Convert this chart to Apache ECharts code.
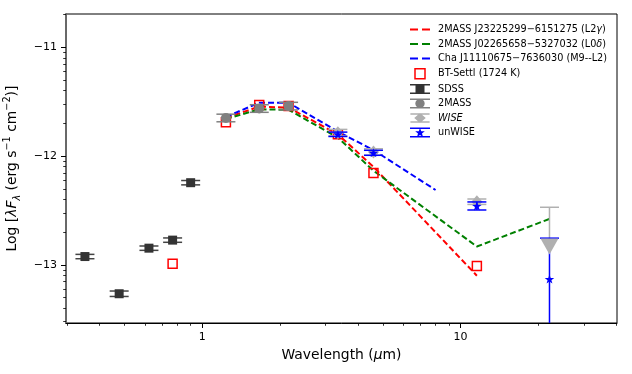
<!DOCTYPE html>
<html>
<head>
<meta charset="utf-8">
<script src="https://cdn.jsdelivr.net/npm/echarts@6/dist/echarts.min.js"></script>
<style>
html, body { margin: 0; padding: 0; background: #fff; }
#chart { width: 632px; height: 374px; }
</style>
</head>
<body>
<div id="chart"></div>
<script>
const FONT = 'DejaVu Sans'

// photometry: wavelength (um), log(lambda F_lambda), errors in dex
const sdssWave = [0.3516, 0.477, 0.622, 0.768, 0.902]
const sdssFlux = [-12.924, -13.266, -12.847, -12.773, -12.245]
const sdssErr = [0.02, 0.025, 0.02, 0.02, 0.02]

const tmassWave = [1.235, 1.662, 2.159]
const tmassFlux = [-11.65, -11.563, -11.541]
const tmassErr = [0.035, 0.035, 0.035]

const wiseWave = [3.35, 4.60, 11.56, 22.08]
const wiseFlux = [-11.785, -11.963, -12.42, -12.832]
const wiseErrDown = [0.03, 0.03, 0.025, 0]      // 0 = upper limit
const wiseErrUp = [0.03, 0.03, 0.025, 0.361]

const unwiseWave = [3.35, 4.60, 11.56, 22.08]
const unwiseFlux = [-11.80, -11.97, -12.459, -13.131]
const unwiseErrDown = [0.02, 0.023, 0.037, 2.0]
const unwiseErrUp = [0.02, 0.023, 0.037, 0.376]

const settlWave = [0.768, 1.235, 1.662, 2.159, 3.35, 4.60, 11.56]
const settlFlux = [-12.99, -11.69, -11.53, -11.54, -11.80, -12.155, -13.01]

// comparison objects
const redWave = [1.235, 1.662, 2.159, 3.35, 4.60, 11.56]
const redFlux = [-11.65, -11.545, -11.555, -11.80, -12.10, -13.10]
const greenWave = [1.235, 1.662, 2.159, 3.35, 4.60, 11.56, 22.08]
const greenFlux = [-11.66, -11.57, -11.575, -11.83, -12.135, -12.832, -12.578]
const blueWave = [1.235, 1.662, 2.159, 3.35, 4.60, 8.0]
const blueFlux = [-11.64, -11.51, -11.51, -11.775, -11.945, -12.312]

const xLabels = [1, 10]
const xMinor = [0.3, 0.4, 0.5, 0.6, 0.7, 0.8, 0.9, 2, 3, 4, 5, 6, 7, 8, 9, 20, 30, 40]
const yLabels = [-13, -12, -11]
const yMin = -13.535, yMax = -10.694
const yMinor = []
for (let d = -14; d < -10; d++) {
    for (let k = 2; k <= 9; k++) {
        const v = d + Math.log10(k)
        if (v > yMin && v < yMax) yMinor.push(v)
    }
}

const names = {
    red: '2MASS J23225299−6151275 (L2γ)',
    green: '2MASS J02265658−5327032 (L0δ)',
    blue: 'Cha J11110675−7636030 (M9--L2)',
    settl: 'BT-Settl (1724 K)'
}

const STAR = 'path://M0,-10L2.35,-3.24L9.51,-3.09L3.8,1.24L5.88,8.09L0,4L-5.88,8.09L-3.8,1.24L-9.51,-3.09L-2.35,-3.24Z'
const CAPS = 'M0,0H20V1.5H0Z M0,8.5H20V10H0Z '
const iconDash = 'path://M0,0H8V2H0Z M12,0H20V2H12Z'
const iconSdss = 'path://' + CAPS + 'M5.5,0.6H14.5V9.4H5.5Z'
const icon2mass = 'path://' + CAPS + 'M14.7,5A4.7,4.7 0 1,1 5.3,5A4.7,4.7 0 1,1 14.7,5Z'
const iconWise = 'path://' + CAPS + 'M10,-0.2L16,5L10,10.2L4,5Z'
const iconUnwise = 'path://' + CAPS + 'M10,0.4L11.25,3.7L14.8,3.8L12,6L13,9.4L10,7.4L7,9.4L8,6L5.2,3.8L8.75,3.7Z'

const pairs = (xs, ys) => xs.map((x, i) => [x, ys[i]])

function errorBars(wave, flux, down, up, color, z) {
    return {
        type: 'custom',
        silent: true,
        clip: true,
        z: z,
        data: wave.map((w, i) => [w, flux[i], flux[i] - down[i], flux[i] + up[i], down[i]]),
        encode: { x: 0, y: 1 },
        renderItem(params, api) {
            const cs = params.coordSys
            const top = api.coord([api.value(0), api.value(3)])
            const bot = api.coord([api.value(0), api.value(2)])
            const yBot = Math.min(bot[1], cs.y + cs.height)
            const st = { stroke: color, lineWidth: 1.5 }
            const kids = [
                { type: 'line', shape: { x1: top[0], y1: top[1], x2: top[0], y2: yBot }, style: st },
                { type: 'line', shape: { x1: top[0] - 9.5, y1: top[1], x2: top[0] + 9.5, y2: top[1] }, style: st }
            ]
            if (api.value(4) > 0 && bot[1] <= cs.y + cs.height) {
                kids.push({ type: 'line', shape: { x1: bot[0] - 9.5, y1: bot[1], x2: bot[0] + 9.5, y2: bot[1] }, style: st })
            }
            return { type: 'group', children: kids }
        }
    }
}

function dashed(name, wave, flux, color) {
    return {
        name: name,
        type: 'line',
        data: pairs(wave, flux),
        symbol: 'none',
        z: 2,
        lineStyle: { color: color, width: 2, type: [6, 3] },
        itemStyle: { color: color }
    }
}

const wiseIdx = wiseWave.map((_, i) => i)
const wiseDet = wiseIdx.filter(i => wiseErrDown[i] > 0)
const wiseLim = wiseIdx.filter(i => wiseErrDown[i] === 0)

const chart = echarts.init(document.getElementById('chart'))
chart.setOption({
    animation: false,
    textStyle: { fontFamily: FONT },
    grid: {
        left: 66, right: 15, top: 14, bottom: 51,
        containLabel: false, outerBoundsMode: 'none',
        show: true, borderColor: '#000', borderWidth: 1
    },
    legend: {
        orient: 'vertical',
        left: 405,
        top: 19.5,
        itemWidth: 20,
        itemHeight: 10,
        itemGap: 4.5,
        symbolKeepAspect: true,
        textStyle: {
            fontFamily: FONT, fontSize: 9.7, color: '#000', padding: [0, 0, 0, 3],
            rich: { i: { fontFamily: FONT, fontSize: 9.7, fontStyle: 'italic', color: '#000' } }
        },
        formatter: n => n === 'WISE' ? '{i|WISE}' : n.replace('γ', '{i|γ}').replace('δ', '{i|δ}'),
        data: [
            { name: names.red, icon: iconDash },
            { name: names.green, icon: iconDash },
            { name: names.blue, icon: iconDash },
            { name: names.settl, icon: 'path://M0,0H10V10H0Z', itemStyle: { color: 'transparent', borderColor: '#ff0000', borderWidth: 1.5 } },
            { name: 'SDSS', icon: iconSdss },
            { name: '2MASS', icon: icon2mass },
            { name: 'WISE', icon: iconWise },
            { name: 'unWISE', icon: iconUnwise }
        ]
    },
    xAxis: [
        {
            type: 'log', logBase: 10, min: 0.297, max: 40.3, position: 'bottom',
            name: '{n|Wavelength (}{i|μ}{n|m)}',
            nameLocation: 'middle', nameGap: 25,
            nameTextStyle: {
                rich: {
                    n: { fontFamily: FONT, fontSize: 13.9, color: '#000' },
                    i: { fontFamily: FONT, fontSize: 13.9, fontStyle: 'italic', color: '#000' }
                }
            },
            axisLine: { lineStyle: { color: '#000', width: 1 } },
            axisTick: { customValues: xLabels, length: 5, lineStyle: { color: '#000', width: 1 } },
            axisLabel: { customValues: xLabels, margin: 9, fontFamily: FONT, fontSize: 11, color: '#000', formatter: v => String(v) },
            splitLine: { show: false }, minorTick: { show: false }
        },
        {
            type: 'log', logBase: 10, min: 0.297, max: 40.3, position: 'bottom', offset: 0,
            axisLine: { show: false },
            axisTick: { customValues: xMinor, length: 2.8, lineStyle: { color: '#000', width: 0.8 } },
            axisLabel: { show: false },
            splitLine: { show: false }
        }
    ],
    yAxis: [
        {
            type: 'value', min: yMin, max: yMax, position: 'left',
            name: '{n|Log [}{i|λF}{sub|λ}{n| (erg s}{sup|−1}{n| cm}{sup|−2}{n|)]}',
            nameLocation: 'middle', nameRotate: 90, nameGap: 31,
            nameTextStyle: {
                rich: {
                    n: { fontFamily: FONT, fontSize: 13.9, color: '#000', lineHeight: 20, verticalAlign: 'middle' },
                    i: { fontFamily: FONT, fontSize: 13.9, fontStyle: 'italic', color: '#000', lineHeight: 20, verticalAlign: 'middle' },
                    sub: { fontFamily: FONT, fontSize: 9.7, fontStyle: 'italic', color: '#000', lineHeight: 12, verticalAlign: 'bottom' },
                    sup: { fontFamily: FONT, fontSize: 9.7, color: '#000', lineHeight: 12, verticalAlign: 'top' }
                }
            },
            axisLine: { show: true, lineStyle: { color: '#666', width: 1.8 } },
            axisTick: { show: true, customValues: yLabels, length: 5, lineStyle: { color: '#000', width: 1 } },
            axisLabel: { customValues: yLabels, margin: 9, fontFamily: FONT, fontSize: 11, color: '#000', formatter: v => '−' + Math.abs(v) },
            splitLine: { show: false }
        },
        {
            type: 'value', min: yMin, max: yMax, position: 'left', offset: 0,
            axisLine: { show: false },
            axisTick: { show: true, customValues: yMinor, length: 2.8, lineStyle: { color: '#000', width: 0.8 } },
            axisLabel: { show: false },
            splitLine: { show: false }
        }
    ],
    series: [
        dashed(names.red, redWave, redFlux, '#ff0000'),
        dashed(names.green, greenWave, greenFlux, '#008000'),
        dashed(names.blue, blueWave, blueFlux, '#0000ff'),
        {
            name: names.settl, type: 'scatter', z: 3,
            data: pairs(settlWave, settlFlux),
            symbol: 'rect', symbolSize: 9,
            itemStyle: { color: 'transparent', borderColor: '#ff0000', borderWidth: 1.5, opacity: 1 }
        },
        errorBars(sdssWave, sdssFlux, sdssErr, sdssErr, '#444', 4),
        {
            name: 'SDSS', type: 'scatter', z: 5,
            data: pairs(sdssWave, sdssFlux),
            symbol: 'rect', symbolSize: 9,
            itemStyle: { color: '#333333', opacity: 1 }
        },
        errorBars(tmassWave, tmassFlux, tmassErr, tmassErr, '#808080', 4),
        {
            name: '2MASS', type: 'scatter', z: 5,
            data: pairs(tmassWave, tmassFlux),
            symbol: 'circle', symbolSize: 10,
            itemStyle: { color: '#808080', opacity: 1 }
        },
        errorBars(wiseWave, wiseFlux, wiseErrDown, wiseErrUp, '#b0b0b0', 6),
        {
            name: 'WISE', type: 'scatter', z: 6,
            data: wiseDet.map(i => [wiseWave[i], wiseFlux[i]]),
            symbol: 'diamond', symbolSize: [11, 13],
            itemStyle: { color: '#b0b0b0', opacity: 1 }
        },
        errorBars(unwiseWave, unwiseFlux, unwiseErrDown, unwiseErrUp, '#0000ff', 7),
        {
            name: 'WISE limit', type: 'scatter', z: 7.5,
            data: wiseLim.map(i => [wiseWave[i], wiseFlux[i]]),
            symbol: 'triangle', symbolRotate: 180, symbolSize: [18, 16],
            itemStyle: { color: '#b0b0b0', opacity: 1 }
        },
        {
            name: 'unWISE', type: 'scatter', z: 8,
            data: pairs(unwiseWave, unwiseFlux),
            symbol: STAR, symbolSize: 9.5, symbolKeepAspect: true,
            itemStyle: { color: '#0000ff', opacity: 1 }
        }
    ]
})
</script>
</body>
</html>
